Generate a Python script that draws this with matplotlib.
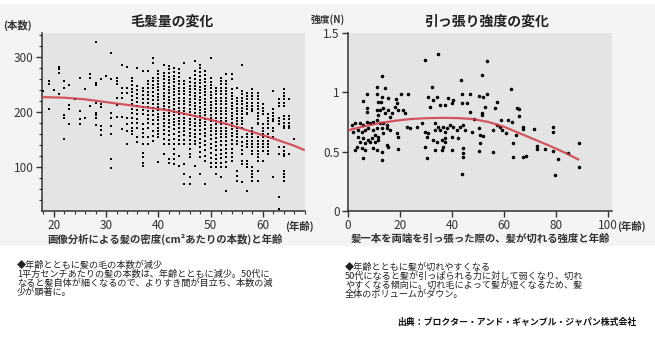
import matplotlib
matplotlib.use("Agg")
import matplotlib.pyplot as plt
from matplotlib.patches import Rectangle
from matplotlib.ticker import MultipleLocator

plt.rcParams['font.family'] = ['Noto Sans CJK JP', 'DejaVu Sans']

# ---------------- data: hair count by age (left chart) ----------------
hair_count = {
    18: [238],
    19: [256, 250, 205],
    20: [239],
    21: [281, 277, 271, 232],
    22: [256, 243, 195, 190, 151],
    23: [249, 213, 205, 179],
    24: [224],
    25: [262, 202, 187, 179],
    26: [241, 189],
    27: [268, 262, 211],
    28: [327, 253, 249, 217, 199, 195, 189, 177],
    29: [259, 215, 209, 175, 167, 159],
    30: [265],
    31: [307, 259, 199, 190, 175, 160, 115, 99],
    32: [262, 256, 250, 226, 213, 191],
    33: [285, 244, 235, 226, 191, 169],
    34: [281, 244, 235, 190, 178, 166, 143],
    35: [262, 256, 249, 241, 236, 229, 222, 214, 205, 198, 190, 181, 172, 166, 160],
    36: [280, 247, 240, 233, 226, 219, 211, 203, 196, 188, 180, 172, 154, 145],
    37: [274, 244, 238, 231, 224, 217, 210, 203, 196, 178, 170, 162, 154, 142, 126, 119, 108, 102],
    38: [274, 256, 250, 243, 236, 230, 223, 216, 209, 202, 195, 188, 180, 172, 154, 142],
    39: [298, 289, 262, 256, 249, 243, 236, 229, 222, 215, 208, 201, 194, 186, 178, 166, 157, 148],
    40: [274, 268, 262, 257, 251, 245, 239, 233, 227, 221, 215, 209, 203, 197, 191, 185, 179, 172,
         166, 160, 154, 109],
    41: [286, 271, 265, 259, 253, 247, 241, 235, 229, 223, 217, 211, 205, 199, 193, 187, 181, 175,
         168, 160, 151, 142, 124],
    42: [283, 277, 270, 264, 258, 252, 246, 240, 234, 228, 222, 216, 210, 204, 198, 192, 186, 180,
         173, 166, 158, 150, 142, 115, 107],
    43: [280, 273, 266, 260, 254, 248, 242, 236, 230, 224, 218, 212, 206, 200, 194, 188, 182, 176,
         169, 161, 152, 142, 133, 124, 115, 106],
    44: [277, 270, 263, 256, 250, 244, 238, 232, 226, 220, 214, 208, 202, 196, 190, 184, 178, 171,
         164, 156, 149, 142, 121, 103],
    45: [289, 256, 250, 244, 238, 232, 226, 220, 214, 208, 202, 196, 190, 184, 178, 172, 165, 158,
         150, 142, 106, 88, 70],
    46: [262, 255, 248, 242, 236, 230, 224, 218, 212, 206, 200, 194, 188, 182, 176, 170, 163, 156,
         149, 142, 133, 125, 118, 82, 70],
    47: [292, 274, 267, 260, 253, 247, 241, 235, 229, 223, 217, 211, 205, 199, 193, 187, 181, 175,
         168, 161, 154, 147, 142, 103],
    48: [286, 279, 272, 265, 258, 252, 246, 240, 234, 228, 222, 216, 210, 204, 198, 192, 186, 180,
         174, 167, 160, 152, 144, 136, 127, 118, 88],
    49: [274, 267, 260, 254, 248, 242, 236, 230, 224, 218, 212, 206, 200, 194, 188, 182, 176, 170,
         163, 156, 148, 140, 131, 121, 112, 70],
    50: [298, 262, 255, 249, 243, 237, 231, 225, 219, 213, 207, 201, 195, 189, 183, 177, 171, 165,
         158, 151, 143, 135, 126, 117, 108, 100],
    51: [244, 238, 232, 226, 220, 214, 208, 202, 196, 190, 184, 178, 172, 166, 160, 153, 146, 139,
         131, 123, 115, 107, 100, 88],
    52: [262, 256, 250, 244, 238, 232, 226, 220, 214, 208, 202, 196, 190, 184, 178, 172, 166, 160,
         154, 147, 140, 132, 124, 116, 108, 100, 82],
    53: [268, 256, 250, 244, 238, 232, 226, 220, 214, 208, 202, 196, 190, 184, 178, 172, 166, 160,
         154, 148, 141, 134, 126, 118, 109, 100, 58],
    54: [268, 259, 241, 235, 229, 223, 217, 211, 205, 199, 193, 187, 181, 175, 169, 163, 156, 149,
         142, 134, 126, 119, 112],
    55: [244, 226, 220, 214, 208, 202, 196, 190, 184, 178, 172, 166, 160, 154, 148, 142, 94, 85, 76],
    56: [286, 238, 232, 226, 220, 214, 208, 202, 196, 190, 184, 178, 172, 154, 146, 138, 131, 124,
         112, 106, 73],
    57: [235, 229, 223, 217, 211, 205, 199, 196, 160, 154, 148, 142, 136, 112, 106, 100, 58],
    58: [241, 235, 229, 223, 217, 211, 206, 202, 172, 166, 160, 154, 148, 142, 136, 130, 124, 100,
         94, 88, 82, 76],
    59: [235, 229, 223, 217, 211, 205, 199, 193, 187, 181, 178, 154, 148, 142, 136, 130, 124, 118,
         112, 94, 76],
    60: [214, 208, 202, 196, 178, 172, 166, 160, 154, 148, 142, 136, 130, 112],
    61: [196, 190, 184, 178, 172, 160, 154, 148, 142, 136, 130, 124],
    62: [238, 205, 199, 193, 187, 184, 172, 166, 154, 82],
    63: [223, 217, 211, 190, 184, 178, 136, 124, 46, 25],
    64: [241, 235, 229, 223, 217, 211, 193, 187, 181, 175, 172, 136, 130, 124, 121, 94, 88, 82, 76],
    65: [223, 193, 187, 181, 175, 172, 124],
    66: [151],
}
hair_trend_age = [17.8, 22, 26, 30, 34, 38, 42, 46, 50, 54, 58, 62, 66, 68]
hair_trend_val = [227, 226, 223, 218, 213, 208, 203, 195, 186, 176, 164, 152, 139, 131]
left_xticks = [20, 30, 40, 50, 60]
left_yticks = [100, 200, 300]

# ---------------- data: tensile strength by age (right chart) ----------------
strength_age = [13.0, 7.2, 11.0, 14.2, 11.3, 13.0, 15.5, 18.3, 20.4, 23.2, 5.9, 7.2, 7.2, 11.7,
                12.7, 11.0, 12.3, 13.6, 15.5, 16.8, 18.1, 18.7, 19.4, 21.3, 11.7, 14.2, 16.2, 22.0,
                1.4, 2.7, 4.6, 5.9, 7.2, 8.5, 9.7, 11.0, 12.3, 13.6, 14.9, 2.1, 4.0, 5.3, 6.5, 7.8,
                9.7, 11.0, 13.0, 14.9, 16.2, 4.0, 5.9, 7.8, 9.1, 10.4, 11.7, 13.6, 18.7, 19.4, 4.6,
                6.5, 8.5, 10.4, 11.7, 3.3, 5.3, 6.5, 2.7, 9.7, 11.0, 14.9, 19.4, 5.9, 13.0, 13.0,
                15.5, 22.6, 23.9, 26.4, 28.3, 29.6, 30.9, 30.3, 29.6, 30.3, 30.9, 32.2, 31.5, 32.8,
                34.1, 35.4, 37.3, 39.9, 38.6, 40.5, 43.5, 43.7, 46.9, 43.7, 45.6, 46.9, 33.5, 34.7,
                35.4, 33.5, 36.7, 38.0, 37.3, 39.2, 40.5, 41.8, 43.1, 44.4, 45.0, 47.6, 32.8, 34.1,
                36.0, 37.3, 39.9, 42.4, 36.7, 36.0, 33.5, 39.9, 44.4, 44.4, 44.4, 37.3, 29.6, 34.5,
                50.5, 51.8, 53.6, 57.4, 52.7, 56.5, 64.8, 65.9, 51.6, 51.4, 65.9, 48.4, 58.7, 61.6,
                62.9, 57.2, 58.4, 59.1, 55.6, 60.7, 67.4, 67.4, 71.6, 78.7, 78.7, 50.5, 50.7, 51.8,
                64.6, 50.7, 63.6, 72.5, 72.5, 75.7, 78.7, 84.7, 50.5, 55.6, 63.6, 67.4, 68.4, 80.9,
                89.0, 89.0, 79.5, 43.7, 53.6, 51.6, 62.5]
strength_val = [1.141, 0.984, 1.043, 1.034, 0.984, 0.964, 0.950, 0.941, 0.984, 0.984, 0.930, 0.865,
                0.837, 0.922, 0.922, 0.851, 0.851, 0.865, 0.851, 0.823, 0.879, 0.908, 0.851, 0.851,
                0.809, 0.823, 0.795, 0.823, 0.725, 0.739, 0.739, 0.725, 0.753, 0.739, 0.753, 0.767,
                0.739, 0.739, 0.725, 0.669, 0.683, 0.669, 0.683, 0.697, 0.683, 0.697, 0.697, 0.697,
                0.683, 0.627, 0.612, 0.598, 0.612, 0.641, 0.627, 0.655, 0.655, 0.627, 0.584, 0.570,
                0.584, 0.584, 0.598, 0.542, 0.528, 0.514, 0.514, 0.528, 0.514, 0.556, 0.520, 0.444,
                0.430, 0.500, 0.542, 0.711, 0.697, 0.711, 0.739, 0.669, 0.655, 0.627, 0.542, 0.444,
                0.964, 1.048, 0.879, 0.936, 0.964, 0.894, 0.894, 0.908, 0.950, 0.936, 1.104, 0.984,
                0.984, 0.908, 0.908, 0.837, 0.739, 0.711, 0.683, 0.683, 0.711, 0.697, 0.669, 0.725,
                0.711, 0.683, 0.711, 0.725, 0.683, 0.669, 0.598, 0.584, 0.598, 0.612, 0.627, 0.612,
                0.542, 0.514, 0.514, 0.514, 0.528, 0.486, 0.452, 0.584, 1.273, 1.324,
                0.970, 0.959, 0.984, 0.922, 0.880, 0.872, 0.866, 0.858, 0.824, 0.810, 0.802, 0.776,
                0.768, 0.768, 0.754, 0.726, 0.712, 0.683, 0.683, 0.661, 0.706, 0.689, 0.689, 0.706,
                0.664, 0.697, 0.641, 0.633, 0.641, 0.571, 0.571, 0.551, 0.520, 0.523, 0.509, 0.492,
                0.506, 0.495, 0.453, 0.453, 0.464, 0.436, 0.571, 0.374, 0.300, 0.312, 1.268, 1.142,
                1.026]
strength_trend_age = [0, 6, 12, 18, 24, 30, 36, 42, 48, 54, 60, 66, 72, 78, 84, 88.5]
strength_trend_val = [0.68, 0.713, 0.740, 0.760, 0.775, 0.782, 0.785, 0.783, 0.775, 0.750, 0.710,
                      0.655, 0.600, 0.545, 0.485, 0.435]
right_xticks = [0, 20, 40, 60, 80, 100]
right_yticks = [0, 0.5, 1, 1.5]
right_yticklabels = ['0', '0.5', '1', '1.5']

# ---------------- texts ----------------
left_title = '毛髪量の変化'
right_title = '引っ張り強度の変化'
left_ylabel = '(本数)'
right_ylabel = '強度(N)'
age_label = '(年齢)'
left_caption = '画像分析による髪の密度(cm²あたりの本数)と年齢'
right_caption = '髪一本を両端を引っ張った際の、髪が切れる強度と年齢'
left_notes = ['◆年齢とともに髪の毛の本数が減少',
              '1平方センチあたりの髪の本数は、年齢とともに減少。50代に',
              'なると髪自体が細くなるので、よりすき間が目立ち、本数の減',
              '少が顕著に。']
right_notes = ['◆年齢とともに髪が切れやすくなる',
               '50代になると髪が引っぱられる力に対して弱くなり、切れ',
               'やすくなる傾向に。切れ毛によって髪が短くなるため、髪',
               '全体のボリュームがダウン。']
source_text = '出典：プロクター・アンド・ギャンブル・ジャパン株式会社'

# ---------------- figure ----------------
W, H = 655, 339
fig = plt.figure(figsize=(W / 100, H / 100), dpi=100, facecolor='white')

def fx(px):
    return px / W

def fy(py):
    return 1 - py / H

# faint background band behind charts
fig.patches.append(Rectangle((0, fy(246)), 1, fy(4) - fy(246), transform=fig.transFigure,
                             facecolor='#f4f4f4', edgecolor='none', zorder=-10))

panel = '#e4e4e4'
dark = '#333333'
red = '#cf3b45'

# left axes
axL = fig.add_axes([fx(42), fy(211), fx(305) - fx(42), fy(33) - fy(211)])
axL.set_facecolor(panel)
xs, ys = [], []
for age, vals in hair_count.items():
    for v in vals:
        xs.append(age)
        ys.append(v)
axL.scatter(xs, ys, s=4.6, marker='s', color='black', linewidths=0, zorder=3)
axL.plot(hair_trend_age, hair_trend_val, color=red, lw=1.6, alpha=0.85, zorder=4,
         solid_capstyle='butt')
axL.set_xlim(17.75, 68.05)
axL.set_ylim(21, 343)
axL.set_xticks(left_xticks)
axL.set_yticks(left_yticks)
axL.xaxis.set_minor_locator(MultipleLocator(2))
axL.yaxis.set_minor_locator(MultipleLocator(20))

# right axes
axR = fig.add_axes([fx(348), fy(211), fx(612) - fx(348), fy(33) - fy(211)])
axR.set_facecolor(panel)
axR.scatter(strength_age, strength_val, s=6.5, color='black', linewidths=0, zorder=3)
axR.plot(strength_trend_age, strength_trend_val, color=red, lw=1.6, alpha=0.85, zorder=4)
axR.set_xlim(0, 101.5)
axR.set_ylim(0, 1.5)
axR.set_xticks(right_xticks)
axR.set_yticks(right_yticks)
axR.set_yticklabels(right_yticklabels)

for ax in (axL, axR):
    for s in ('top', 'right'):
        ax.spines[s].set_visible(False)
    for s in ('left', 'bottom'):
        ax.spines[s].set_color(dark)
        ax.spines[s].set_linewidth(1.1)
    ax.tick_params(which='major', direction='out', length=4, width=1.0, color=dark,
                   labelsize=8.5, labelcolor=dark, pad=2)
    ax.tick_params(which='minor', direction='out', length=2.5, width=0.8, color=dark)

# titles and labels
fig.text(fx(172), fy(22), left_title, ha='center', va='center', fontsize=10, fontweight='bold',
         color='#222222')
fig.text(fx(487), fy(22), right_title, ha='center', va='center', fontsize=10, fontweight='bold',
         color='#222222')
fig.text(fx(3), fy(25), left_ylabel, ha='left', va='center', fontsize=7.5, fontweight='bold',
         color=dark)
fig.text(fx(311), fy(20), right_ylabel, ha='left', va='center', fontsize=7, fontweight='bold',
         color=dark)
fig.text(fx(299), fy(226), age_label, ha='center', va='center', fontsize=7.5, fontweight='bold',
         color=dark)
fig.text(fx(631), fy(226), age_label, ha='center', va='center', fontsize=7.5, fontweight='bold',
         color=dark)
fig.text(fx(165), fy(239), left_caption, ha='center', va='center', fontsize=7.5,
         fontweight='bold', color=dark)
fig.text(fx(480), fy(239), right_caption, ha='center', va='center', fontsize=7.5,
         fontweight='bold', color=dark)

# notes
for i, line in enumerate(left_notes):
    fig.text(fx(17), fy(265 + 9.3 * i), line, ha='left', va='center', fontsize=6.6,
             color='#222222')
for i, line in enumerate(right_notes):
    fig.text(fx(345), fy(267 + 9.3 * i), line, ha='left', va='center', fontsize=6.6,
             color='#222222')
fig.text(fx(636), fy(322), source_text, ha='right', va='center', fontsize=6.4,
         fontweight='bold', color='#111111')

fig.savefig('out.png', dpi=100, facecolor='white')
